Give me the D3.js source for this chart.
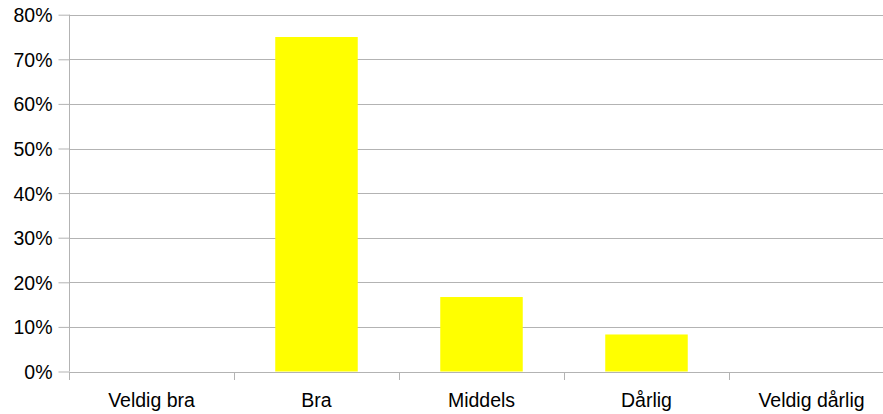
<!DOCTYPE html>
<html>
<head>
<meta charset="utf-8">
<script src="https://cdn.jsdelivr.net/npm/d3@7"></script>
<style>
  html, body { margin: 0; padding: 0; background: #fff; }
  svg { display: block; }
  text { font-family: "Liberation Sans", Arial, sans-serif; fill: #000; }
</style>
</head>
<body>
<svg id="chart" width="883" height="414"></svg>
<script>
// Answer categories and share of responses (%)
const categories = ["Veldig bra", "Bra", "Middels", "Dårlig", "Veldig dårlig"];
const shares = [0, 75, 16.7, 8.3, 0];
const yTicks = [0, 10, 20, 30, 40, 50, 60, 70, 80];

const svg = d3.select("#chart");
const plotLeft = 69, plotTop = 14.7, plotBottom = 371.5, plotWidth = 825;
const gridColor = "#b3b3b3";

const x = d3.scaleBand()
  .domain(categories)
  .range([plotLeft, plotLeft + plotWidth])
  .paddingInner(0.5)
  .paddingOuter(0.25);

const y = d3.scaleLinear().domain([0, 80]).range([plotBottom, plotTop]);

// Horizontal gridlines
svg.append("g")
  .selectAll("line")
  .data(yTicks)
  .join("line")
  .attr("x1", plotLeft).attr("x2", plotLeft + plotWidth)
  .attr("y1", d => Math.round(y(d)) + 0.5).attr("y2", d => Math.round(y(d)) + 0.5)
  .attr("stroke", gridColor).attr("stroke-width", 1);

// Bars
svg.append("g")
  .selectAll("rect")
  .data(categories.map((c, i) => ({ c, v: shares[i] })).filter(d => d.v > 0))
  .join("rect")
  .attr("x", d => x(d.c))
  .attr("width", x.bandwidth())
  .attr("y", d => y(d.v))
  .attr("height", d => y(0) - y(d.v))
  .attr("fill", "#ffff00");

// Y axis
const yAxis = svg.append("g")
  .attr("transform", `translate(${plotLeft + 0.5},0)`)
  .call(d3.axisLeft(y).tickValues(yTicks).tickFormat(d => d + "%").tickSize(11).tickPadding(6));
yAxis.selectAll("path, line").attr("stroke", gridColor);
yAxis.select(".domain").attr("d", `M0,${plotTop}V${plotBottom}`);
yAxis.selectAll("text")
  .style("font-size", "19.5px")
  .attr("dy", "0.36em");

// X axis: ticks at category boundaries, labels centred in each band
const step = x.step();
const xg = svg.append("g");
const boundaries = d3.range(categories.length + 1).map(i => plotLeft + i * step);
xg.selectAll("line")
  .data(boundaries)
  .join("line")
  .attr("x1", d => Math.round(d) + 0.5).attr("x2", d => Math.round(d) + 0.5)
  .attr("y1", Math.round(plotBottom) + 0.5).attr("y2", Math.round(plotBottom) + 8)
  .attr("stroke", gridColor);
xg.selectAll("text")
  .data(categories)
  .join("text")
  .attr("x", d => x(d) + x.bandwidth() / 2)
  .attr("y", 406.5)
  .attr("text-anchor", "middle")
  .style("font-size", "19.5px")
  .text(d => d);
</script>
</body>
</html>
